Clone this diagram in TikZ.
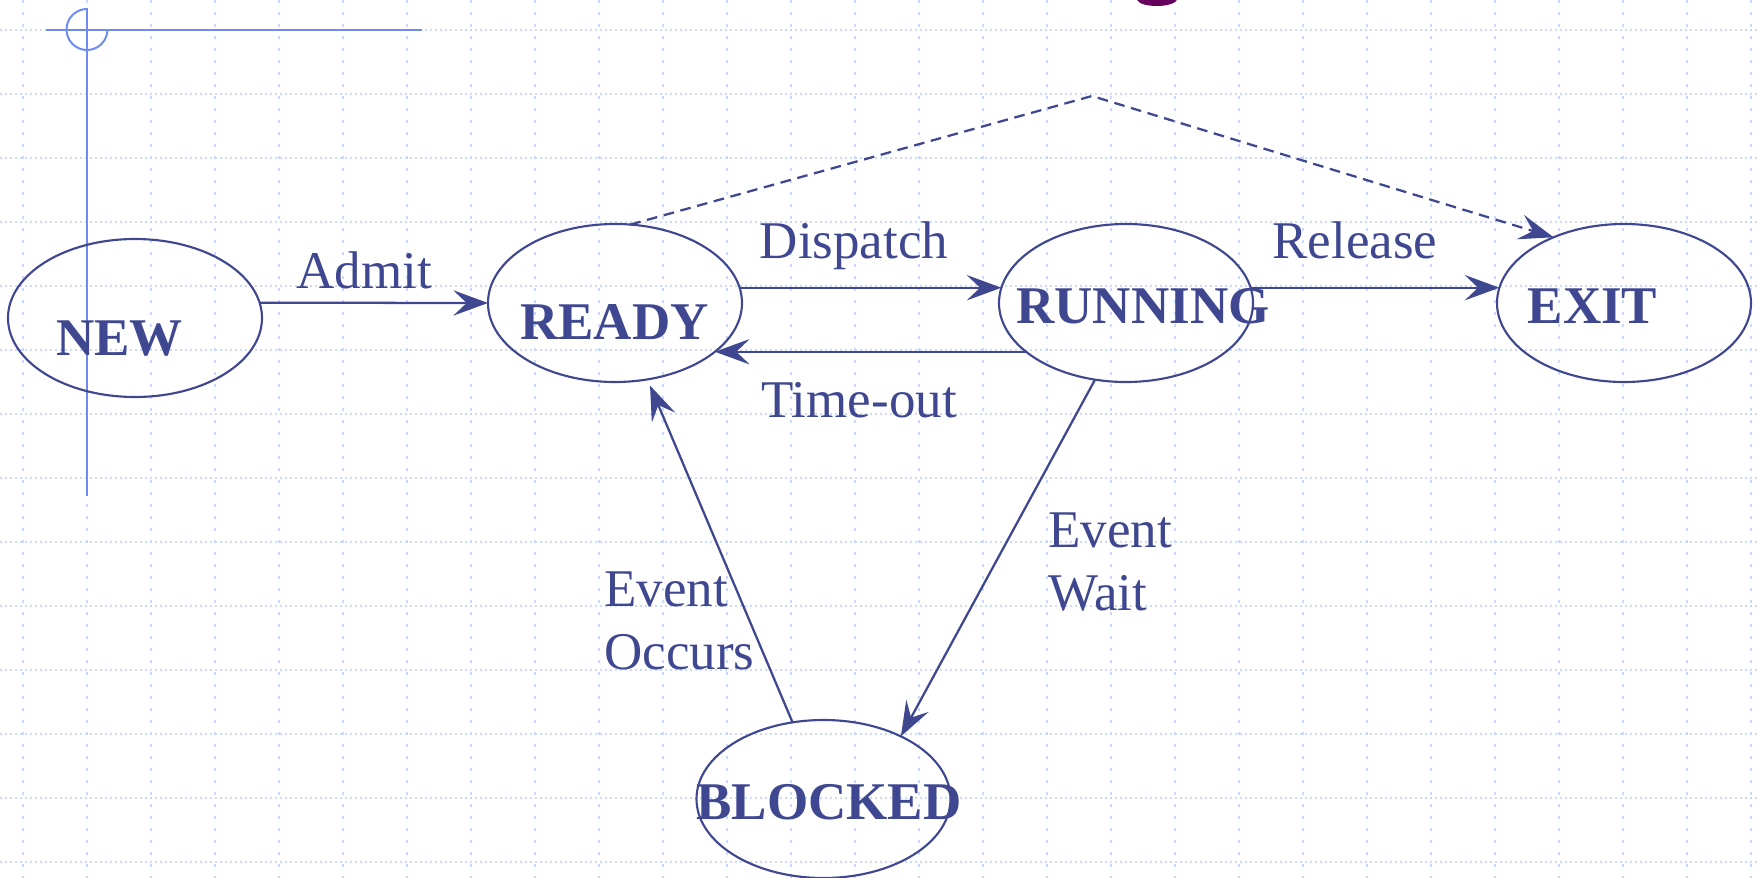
\documentclass[tikz,border=0pt]{standalone}
\usepackage{fontspec}
\setmainfont{Liberation Serif}
\usetikzlibrary{shapes.geometric,arrows.meta}
\definecolor{stateblue}{RGB}{62,71,143}
\definecolor{gridblue}{RGB}{204,217,248}
\definecolor{markblue}{RGB}{110,140,240}
\definecolor{titlepurple}{RGB}{102,0,92}

\begin{document}
\begin{tikzpicture}[x=0.75pt,y=0.75pt,yscale=-1,xscale=1,
	state/.style={draw=stateblue,line width=1.6pt,ellipse,minimum width=190.5pt,minimum height=118.5pt,inner sep=0pt,outer sep=0pt},
	statename/.style={text=stateblue,font=\fontsize{39.75}{48}\selectfont\bfseries,anchor=base,inner sep=0pt},
	edgelabel/.style={text=stateblue,font=\fontsize{39.75}{47}\selectfont,anchor=base,inner sep=0pt},
	move/.style={draw=stateblue,line width=1.7pt,-{Stealth[length=26pt,width=19pt,inset=10pt]}}]
	\useasboundingbox (0,0) rectangle (1757,878);
	
	%Grid
	\foreach \gy in {30,94,...,862}
		\draw [gridblue,line width=1pt,dash pattern=on 1.5pt off 2.25pt] (0,\gy) -- (1757,\gy) ;
	\foreach \gx in {23,87,...,1751}
		\draw [gridblue,line width=1pt,dash pattern=on 2pt off 7pt] (\gx,0) -- (\gx,878) ;
	
	%Straight Lines: margin mark
	\draw [markblue,line width=1.5pt] (46,30) -- (422,30) ;
	\draw [markblue,line width=1.5pt] (87,8) -- (87,496) ;
	\draw [markblue,line width=1.5pt] (87,9) arc [start angle=270,end angle=0,radius=20.5] ;
	%Shape: title descender
	\fill [titlepurple] (1137,0) .. controls (1141,8) and (1172,8) .. (1177,0) -- cycle ;
	
	%Shape: Ellipse
	\node [state] (new) at (135,318) {};
	\node [state] (ready) at (615,303) {};
	\node [state] (running) at (1126,303) {};
	\node [state] (exit) at (1624,303) {};
	\node [state] (blocked) at (823.5,799) {};
	\coordinate (apex) at (1092,96);
	
	% Text Node
	\node [statename] (newname) at (119.5,355) {NEW};
	\node [statename] (readyname) at (614.5,339) {READY};
	\node [statename] (runningname) at (1143,323) {RUNNING};
	\node [statename] (exitname) at (1592.5,323) {EXIT};
	\node [statename] (blockedname) at (829,819) {BLOCKED};
	
	%Straight Lines
	\draw [move] (new.7) -- (ready.180) ;
	\draw [move] (ready.7) -- (running.173) ;
	\draw [move] (running.206) -- (ready.334) ;
	\draw [move] (running.7) -- (exit.173) ;
	\draw [move] (running.248) -- (blocked.39) ;
	\draw [move,shorten >=5pt] (blocked.112) -- (ready.293) ;
	\draw [move,dash pattern=on 8pt off 5pt] (ready.79) -- (apex) -- (exit.137) ;
	
	% Text Node
	\node [edgelabel] (admit) at (364,288) {Admit};
	\node [edgelabel] (dispatch) at (854,258) {Dispatch};
	\node [edgelabel] (release) at (1355,258) {Release};
	\node [edgelabel] (timeout) at (859,417) {Time-out};
	\node [edgelabel,anchor=base west,align=left] (eventwait) at (1048,610) {Event\\Wait};
	\node [edgelabel,anchor=base west,align=left] (eventoccurs) at (604,669) {Event\\Occurs};
	
\end{tikzpicture}
\end{document}
